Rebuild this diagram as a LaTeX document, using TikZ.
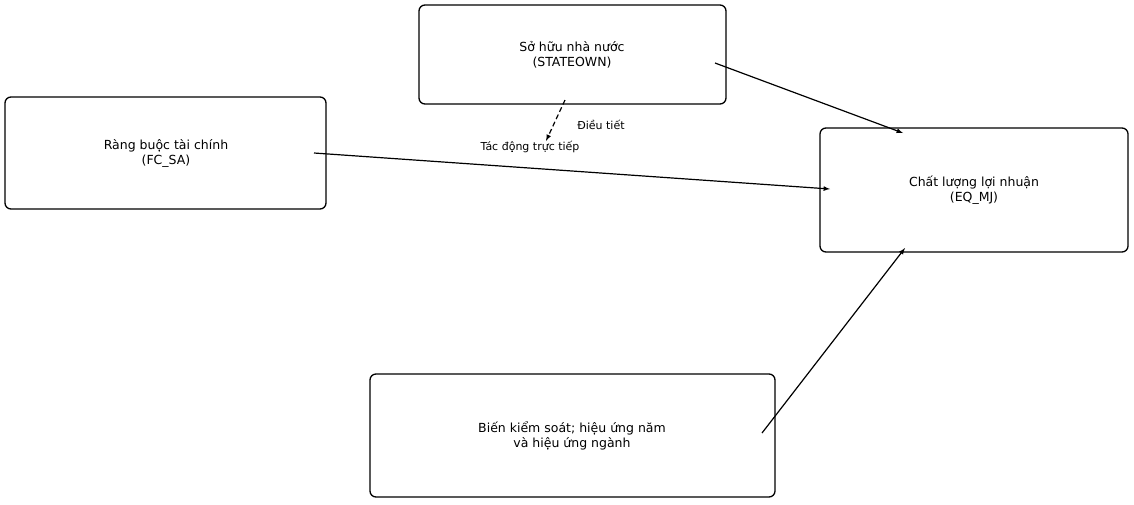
\documentclass[tikz,border=0pt]{standalone}
\usepackage{fontspec}
\setmainfont{DejaVu Sans}
\begin{document}
\begin{tikzpicture}[x=1pt,y=-1pt,
  box/.style={draw,line width=1.3pt,rounded corners=6pt},
  lbl/.style={font=\fontsize{12.5}{15}\selectfont,align=center},
  small/.style={font=\fontsize{11}{13}\selectfont},
  arr/.style={-latex,line width=1.2pt}]
\useasboundingbox (0,0) rectangle (1134,504);
\draw[box] (419,5) rectangle (726,104);
\draw[box] (5,97) rectangle (326,209);
\draw[box] (820,128) rectangle (1128,252);
\draw[box] (370,374) rectangle (775,497);
\node[lbl] (so) at (572,55) {Sở hữu nhà nước\\(STATEOWN)};
\node[lbl] (fc) at (166,153) {Ràng buộc tài chính\\(FC\_SA)};
\node[lbl] (eq) at (974,190) {Chất lượng lợi nhuận\\(EQ\_MJ)};
\node[lbl] (ct) at (572,436) {Biến kiểm soát; hiệu ứng năm\\và hiệu ứng ngành};
\coordinate (s1) at (715,63); \coordinate (e1) at (903,133);
\coordinate (f1) at (314,153); \coordinate (e2) at (830,189);
\coordinate (c1) at (762,433); \coordinate (e3) at (905,248);
\coordinate (d1) at (565,100); \coordinate (d2) at (546,141);
\draw[arr] (s1) -- (e1);
\draw[arr] (f1) -- (e2);
\draw[arr] (c1) -- (e3);
\draw[arr,dashed,dash pattern=on 5pt off 3pt] (d1) -- (d2);
\node[small] (dt) at (601,125) {Điều tiết};
\node[small] (td) at (530,147) {Tác động trực tiếp};
\end{tikzpicture}
\end{document}
